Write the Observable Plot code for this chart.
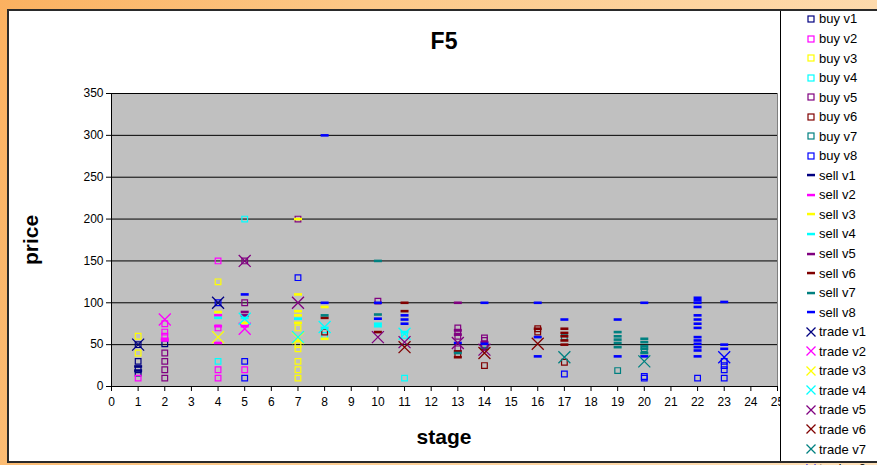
<!DOCTYPE html>
<html><head><meta charset="utf-8">
<script src="https://cdn.jsdelivr.net/npm/d3@7"></script>
<script src="https://cdn.jsdelivr.net/npm/@observablehq/plot@0.6"></script>
<style>
html,body{margin:0;padding:0;}
body{width:877px;height:465px;overflow:hidden;font-family:"Liberation Sans",Arial,sans-serif;}
#wrap{position:relative;width:877px;height:465px;overflow:hidden;background:linear-gradient(110deg,#fbb160 0%,#fcc888 35%,#fee0b8 100%);}
#box{position:absolute;left:7px;top:9px;width:900px;height:450px;background:#fff;border-left:2px solid #2a2a2a;border-top:2px solid #2a2a2a;}
#bottomline{position:absolute;left:7px;top:461px;width:880px;height:2px;background:#2a2a2a;z-index:5;}
#chart{position:absolute;left:0;top:0;z-index:1;}
#legend{position:absolute;left:780px;top:11px;width:97px;height:450px;background:#fff;border-left:1px solid #000;z-index:3;overflow:visible;}
#legend .inner{position:relative;top:-1.8px;}
.item{display:flex;align-items:center;height:19.55px;font-size:13px;color:#000;white-space:nowrap;}
.item svg{margin-left:24px;margin-right:2px;flex:none;}
.lbl{position:absolute;z-index:4;font-weight:bold;color:#000;transform:translate(-50%,-50%);white-space:nowrap;}
</style></head>
<body>
<div id="wrap">
  <div id="box"></div>
  <div id="chart"></div>
  <div id="legend"><div class="inner"></div></div>
  <div id="bottomline"></div>
  <div class="lbl" style="left:444px;top:41px;font-size:23px;">F5</div>
  <div class="lbl" style="left:31px;top:240px;font-size:21px;transform:translate(-50%,-50%) rotate(-90deg);">price</div>
  <div class="lbl" style="left:444px;top:437px;font-size:21px;">stage</div>
</div>
<script>
// ---- axes ----
const xTicks = d3.range(0, 26);
const yTicks = [0, 50, 100, 150, 200, 250, 300, 350];
const variants = ["v1", "v2", "v3", "v4", "v5", "v6", "v7", "v8"];
const colors = ["#000080", "#ff00ff", "#ffff00", "#00ffff", "#800080", "#800000", "#008080", "#0000ff"];

// ---- buy offers (stage, price) ----
const buyV1 = [[1, 30], [1, 20], [1, 16], [1, 50], [2, 51]];
const buyV2 = [[1, 10], [2, 75], [2, 65], [2, 60], [4, 150], [4, 70], [4, 20], [4, 10], [5, 20]];
const buyV3 = [[1, 60], [1, 40], [4, 125], [7, 70], [7, 50], [7, 45], [7, 30], [7, 20], [7, 10]];
const buyV4 = [[4, 30], [5, 200], [8, 61], [11, 61], [11, 10]];
const buyV5 = [[2, 40], [2, 30], [2, 20], [2, 10], [5, 150], [5, 100], [7, 200], [10, 102], [13, 70], [13, 65], [13, 60], [13, 45], [14, 58], [14, 55], [14, 50]];
const buyV6 = [[8, 65], [13, 38], [14, 25], [16, 69], [16, 65], [17, 29]];
const buyV7 = [[17, 59], [19, 19], [20, 45]];
const buyV8 = [[4, 100], [5, 30], [5, 10], [7, 130], [17, 15], [20, 12], [20, 10], [22, 10], [23, 30], [23, 25], [23, 20], [23, 10]];

// ---- sell offers (stage, price) ----
const sellV1 = [[1, 24], [1, 19]];
const sellV2 = [[2, 57], [2, 55], [4, 85], [4, 72], [4, 52], [5, 72]];
const sellV3 = [[4, 89], [5, 76], [7, 200], [7, 110], [7, 90], [7, 85], [7, 76], [7, 55], [8, 95], [8, 57]];
const sellV4 = [[4, 82], [5, 82], [7, 81], [8, 70], [10, 75], [10, 72], [11, 65]];
const sellV5 = [[5, 89], [5, 85], [13, 100], [13, 67], [13, 62], [14, 53]];
const sellV6 = [[8, 82], [10, 65], [11, 100], [11, 90], [13, 42], [13, 35], [14, 45], [16, 69], [17, 69], [17, 64], [17, 60], [17, 55], [17, 50]];
const sellV7 = [[8, 85], [10, 150], [10, 86], [13, 40], [14, 46], [19, 65], [19, 60], [19, 56], [19, 52], [19, 47], [20, 57], [20, 53], [20, 48], [20, 45], [20, 40]];
const sellV8 = [[5, 110], [8, 300], [8, 100], [10, 100], [10, 81], [11, 85], [11, 80], [11, 75], [13, 52], [14, 100], [14, 51], [16, 100], [16, 59], [16, 36], [17, 80], [19, 80], [19, 36], [20, 100], [20, 36], [22, 106], [22, 103], [22, 100], [22, 95], [22, 85], [22, 80], [22, 75], [22, 70], [22, 59], [22, 55], [22, 51], [22, 47], [22, 43], [22, 36], [23, 101], [23, 50], [23, 45]];

// ---- trades (stage, price) ----
const tradeV1 = [[1, 50], [4, 100]];
const tradeV2 = [[2, 80], [5, 69]];
const tradeV3 = [[4, 59], [7, 58]];
const tradeV4 = [[5, 81], [7, 59], [8, 71], [11, 63]];
const tradeV5 = [[5, 150], [7, 100], [10, 59], [11, 53], [13, 52], [14, 44]];
const tradeV6 = [[11, 47], [14, 40], [16, 51]];
const tradeV7 = [[17, 35], [20, 30]];
const tradeV8 = [[23, 35]];

const buys = [buyV1, buyV2, buyV3, buyV4, buyV5, buyV6, buyV7, buyV8];
const sells = [sellV1, sellV2, sellV3, sellV4, sellV5, sellV6, sellV7, sellV8];
const trades = [tradeV1, tradeV2, tradeV3, tradeV4, tradeV5, tradeV6, tradeV7, tradeV8];

const rows = (list) => list.flatMap((arr, i) => arr.map(([stage, price]) => ({stage, price, color: colors[i]})));

const dashSymbol = {
  draw(ctx) {
    const w = 4, h = 1.3;
    ctx.moveTo(-w, -h); ctx.lineTo(w, -h); ctx.lineTo(w, h); ctx.lineTo(-w, h); ctx.closePath();
  }
};

const chart = Plot.plot({
  width: 877,
  height: 465,
  marginLeft: 111,
  marginRight: 100,
  marginTop: 93,
  marginBottom: 79,
  style: {background: "transparent", fontSize: "12px", fontFamily: "'Liberation Sans', Arial, sans-serif", color: "#000"},
  x: {domain: [0, 25]},
  y: {domain: [0, 350]},
  color: {type: "identity"},
  marks: [
    Plot.frame({fill: "#c0c0c0", stroke: "#808080"}),
    Plot.gridY(yTicks.filter(d => d > 0), {stroke: "#000", strokeOpacity: 1, strokeWidth: 1}),
    Plot.ruleY([0], {stroke: "#000"}),
    Plot.ruleX([0], {stroke: "#000"}),
    Plot.axisX({ticks: xTicks, tickSize: 5, tickPadding: 6, label: null, stroke: "#000"}),
    Plot.axisY({ticks: yTicks, tickSize: 5, tickPadding: 3, label: null, stroke: "#000"}),
    Plot.dot(rows(buys), {x: "stage", y: "price", symbol: "square", r: 3.2, stroke: "color", fill: "none", strokeWidth: 1.2}),
    Plot.dot(rows(sells), {x: "stage", y: "price", symbol: dashSymbol, r: 3, fill: "color", stroke: "none"}),
    Plot.dot(rows(trades), {x: "stage", y: "price", symbol: "times", r: 5.5, stroke: "color", strokeWidth: 1.3})
  ]
});
document.getElementById("chart").appendChild(chart);

// ---- legend ----
const inner = document.querySelector("#legend .inner");
const kinds = [
  {name: "buy", n: 8, sym: c => `<rect x="3" y="3" width="6" height="6" fill="none" stroke="${c}" stroke-width="1.2"/>`},
  {name: "sell", n: 8, sym: c => `<rect x="2" y="4.8" width="8" height="2.5" fill="${c}"/>`},
  {name: "trade", n: 8, sym: c => `<path d="M1.5,1.5L10.5,10.5M10.5,1.5L1.5,10.5" stroke="${c}" stroke-width="1.3" fill="none"/>`}
];
for (const k of kinds) {
  for (let i = 0; i < k.n; i++) {
    const div = document.createElement("div");
    div.className = "item";
    div.innerHTML = `<svg width="12" height="12" viewBox="0 0 12 12">${k.sym(colors[i])}</svg><span>${k.name} ${variants[i]}</span>`;
    inner.appendChild(div);
  }
}
</script>
</body></html>
